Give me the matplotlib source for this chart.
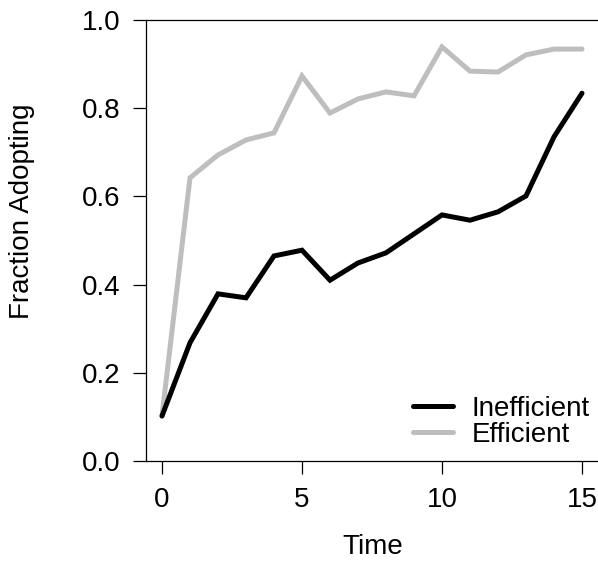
import numpy as np
import matplotlib
matplotlib.use("Agg")
import matplotlib.pyplot as plt

plt.rcParams['font.family'] = ['Liberation Sans', 'DejaVu Sans']

# data
time = np.arange(16)
inefficient = [0.102, 0.268, 0.379, 0.370, 0.465, 0.478, 0.410, 0.449,
               0.472, 0.515, 0.558, 0.546, 0.565, 0.601, 0.735, 0.834]
efficient = [0.102, 0.642, 0.694, 0.728, 0.744, 0.873, 0.789, 0.821,
             0.837, 0.828, 0.939, 0.884, 0.882, 0.921, 0.934, 0.934]
xticks = [0, 5, 10, 15]
yticks = [0.0, 0.2, 0.4, 0.6, 0.8, 1.0]

W, H = 598, 563
FS = 20
fig = plt.figure(figsize=(W / 100, H / 100), dpi=100)
ax = fig.add_axes([146 / W, (H - 461) / H, (W - 146) / W, 441 / H])

# black drawn over grey
ax.plot(time, inefficient, color='black', lw=3.6, solid_capstyle='round',
        solid_joinstyle='miter', label='Inefficient', clip_on=False, zorder=3)
ax.plot(time, efficient, color='#BEBEBE', lw=3.6, solid_capstyle='round',
        solid_joinstyle='miter', label='Efficient', clip_on=False, zorder=2)

ax.set_xlim(-0.571, -0.571 + 452 / 28)
ax.set_ylim(0, 1)
ax.set_xticks(xticks)
ax.set_yticks(yticks)
ax.set_yticklabels(['%.1f' % v for v in yticks])
ax.tick_params(axis='both', direction='out', length=9.4, width=0.9,
               labelsize=FS, pad=9)
for s in ['left', 'top', 'bottom']:
    ax.spines[s].set_linewidth(0.9)
ax.spines['right'].set_visible(False)

fig.text(373 / W, 1 - 547 / H, 'Time', ha='center', va='center', fontsize=FS)
fig.text(22 / W, 1 - 211 / H, 'Fraction Adopting', ha='center', va='center',
         rotation=90, fontsize=FS)

ax.legend(loc='upper left', bbox_to_anchor=((413 - 146) / 452, (461 - 396) / 441),
          frameon=False, fontsize=FS, handlelength=1.44, handletextpad=0.68,
          labelspacing=0.0, borderpad=0, borderaxespad=0)

fig.savefig('out.png', dpi=100)
